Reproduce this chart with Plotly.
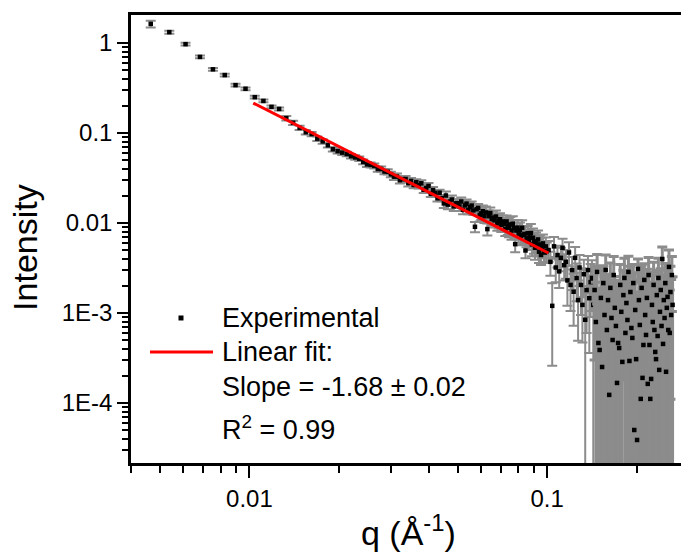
import plotly.graph_objects as go

# ---------------- data ----------------
q_low = [0.00466, 0.00538, 0.00610, 0.00682, 0.00754, 0.00826, 0.00898, 0.00970, 0.01042, 0.01114,
         0.01186, 0.01258, 0.01330, 0.01402, 0.01474, 0.01546, 0.01618, 0.01690, 0.01762, 0.01834,
         0.01906, 0.01978, 0.02050, 0.02122, 0.02194, 0.02266, 0.02338, 0.02410, 0.02482, 0.02554,
         0.02626, 0.02698, 0.02770, 0.02842, 0.02914, 0.02986]
I_low = [1.63, 1.32, 0.97, 0.70, 0.51, 0.44, 0.34, 0.31, 0.25, 0.227,
         0.195, 0.185, 0.146, 0.130, 0.114, 0.102, 0.0972, 0.0865, 0.0806, 0.0730,
         0.0660, 0.0628, 0.0605, 0.0584, 0.0552, 0.0535, 0.0518, 0.0477, 0.0448, 0.0442,
         0.0430, 0.0398, 0.0398, 0.0373, 0.0370, 0.0347]
err_low = [0.14, 0.05, 0.035, 0.025, 0.018, 0.016, 0.012, 0.011, 0.009, 0.008,
           0.007, 0.007, 0.008, 0.007, 0.006, 0.006, 0.0055, 0.005, 0.0045, 0.0042,
           0.0038, 0.0036, 0.0035, 0.0034, 0.0033, 0.0032, 0.0031, 0.0029, 0.0028, 0.0028,
           0.0027, 0.0026, 0.0026, 0.0025, 0.0025, 0.0024]

q_mid = [0.03058, 0.03130, 0.03202, 0.03274, 0.03346, 0.03418, 0.03490, 0.03562, 0.03634, 0.03706,
         0.03778, 0.03850, 0.03922, 0.03994, 0.04066, 0.04138, 0.04210, 0.04282, 0.04354, 0.04426,
         0.04498, 0.04570, 0.04642, 0.04714, 0.04786, 0.04858, 0.04930, 0.05002, 0.05074, 0.05146,
         0.05218, 0.05290, 0.05362, 0.05434, 0.05506, 0.05578, 0.05650, 0.05722, 0.05794, 0.05866,
         0.05938, 0.06010, 0.06082, 0.06154, 0.06226, 0.06298, 0.06370, 0.06442, 0.06514, 0.06586,
         0.06658, 0.06730, 0.06802, 0.06874, 0.06946, 0.07018, 0.07090, 0.07162, 0.07234, 0.07306,
         0.07378, 0.07450, 0.07522, 0.07594, 0.07666, 0.07738, 0.07810, 0.07882, 0.07954, 0.08026,
         0.08098, 0.08170, 0.08242, 0.08314, 0.08386, 0.08458, 0.08530, 0.08602, 0.08674, 0.08746,
         0.08818, 0.08890, 0.08962, 0.09034, 0.09106, 0.09178, 0.09250, 0.09322, 0.09394, 0.09466,
         0.09538, 0.09610, 0.09682, 0.09754, 0.09826, 0.09898, 0.09970]
I_mid = [0.0327, 0.0328, 0.0299, 0.0307, 0.0308, 0.0277, 0.0293, 0.0264, 0.0284, 0.0262,
         0.0276, 0.0234, 0.0245, 0.0258, 0.0211, 0.0232, 0.0216, 0.0188, 0.0217, 0.0189,
         0.0165, 0.0202, 0.0160, 0.0173, 0.0182, 0.0153, 0.0165, 0.0166, 0.0153, 0.0173,
         0.0140, 0.0157, 0.0164, 0.0140, 0.0150, 0.0156, 0.0138, 0.00907, 0.0142, 0.0147,
         0.0123, 0.0128, 0.0135, 0.0119, 0.0131, 0.00855, 0.0119, 0.0129, 0.0110, 0.0115,
         0.0107, 0.0118, 0.0099, 0.0105, 0.0110, 0.00954, 0.0104, 0.00972, 0.00856, 0.0104,
         0.00936, 0.00886, 0.00963, 0.00823, 0.00981, 0.00877, 0.00582, 0.00824, 0.00888, 0.00762,
         0.00831, 0.00716, 0.00885, 0.00736, 0.00755, 0.00495, 0.00676, 0.00768, 0.00630, 0.00692,
         0.00772, 0.00578, 0.00686, 0.00615, 0.00531, 0.00624, 0.00566, 0.00656, 0.00480, 0.00578,
         0.00441, 0.00545, 0.00593, 0.00486, 0.00469, 0.00549, 0.00486]
err_mid = [0.0026, 0.0026, 0.0024, 0.0025, 0.0025, 0.0022, 0.0023, 0.0021, 0.0023, 0.0021,
           0.0022, 0.0019, 0.0020, 0.0021, 0.0017, 0.0019, 0.0017, 0.0015, 0.0017, 0.0015,
           0.0018, 0.0022, 0.0018, 0.0019, 0.0020, 0.0017, 0.0018, 0.0018, 0.0017, 0.0019,
           0.0015, 0.0017, 0.0018, 0.0015, 0.0017, 0.0017, 0.0015, 0.0012, 0.0016, 0.0016,
           0.0019, 0.0020, 0.0021, 0.0019, 0.0021, 0.0013, 0.0019, 0.0020, 0.0017, 0.0019,
           0.0018, 0.0020, 0.0017, 0.0018, 0.0018, 0.0016, 0.0017, 0.0016, 0.0014, 0.0017,
           0.0020, 0.0019, 0.0020, 0.0017, 0.0021, 0.0019, 0.0011, 0.0017, 0.0019, 0.0016,
           0.0018, 0.0015, 0.0019, 0.0016, 0.0016, 0.0009, 0.0014, 0.0016, 0.0013, 0.0015,
           0.0020, 0.0015, 0.0018, 0.0016, 0.0014, 0.0016, 0.0014, 0.0017, 0.0012, 0.0015,
           0.0010, 0.0014, 0.0015, 0.0012, 0.0011, 0.0014, 0.0012]

# q > 0.1, part 1 (0.101 - 0.143)
q_high1 = [0.10114, 0.10258, 0.10402, 0.10546, 0.10690, 0.10834, 0.10978, 0.11122, 0.11266, 0.11410,
           0.11554, 0.11698, 0.11842, 0.11986, 0.12130, 0.12274, 0.12418, 0.12562, 0.12706, 0.12850,
           0.12994, 0.13138, 0.13282, 0.13426, 0.13570, 0.13714, 0.13858, 0.14002, 0.14146, 0.14290]
I_high1 = [0.0050, 0.0037, 0.00120, 0.0055, 0.0032, 0.0044, 0.0029, 0.0041, 0.0053, 0.0034,
           0.0037, 0.0023, 0.0047, 0.00205, 0.0030, 0.00172, 0.0041, 0.00245, 0.00139, 0.0032,
           0.00205, 0.00123, 0.0027, 0.00084, 0.0018, 0.0030, 0.00146, 0.0022, 0.00245, 0.00123]
err_high1 = [0.0013, 0.0011, 0.00094, 0.0015, 0.0010, 0.0012, 0.0010, 0.0012, 0.0014, 0.0011,
             0.0013, 0.0011, 0.0014, 0.0010, 0.0012, 0.0010, 0.0013, 0.0011, 0.0009, 0.0012,
             0.0011, 0.00076, 0.0012, 0.00082, 0.0012, 0.0013, 0.0011, 0.0013, 0.0014, 0.0014]

# q > 0.1, part 2 (0.144 - 0.264), noisy background region
q_high2 = [0.14434, 0.14578, 0.14722, 0.14866, 0.15010, 0.15154, 0.15298, 0.15442, 0.15586, 0.15730,
           0.15874, 0.16018, 0.16162, 0.16306, 0.16450, 0.16594, 0.16738, 0.16882, 0.17026, 0.17170,
           0.17314, 0.17458, 0.17602, 0.17746, 0.17890, 0.18034, 0.18178, 0.18322, 0.18466, 0.18610,
           0.18754, 0.18898, 0.19042, 0.19186, 0.19330, 0.19474, 0.19618, 0.19762, 0.19906, 0.20050,
           0.20194, 0.20338, 0.20482, 0.20626, 0.20770, 0.20914, 0.21058, 0.21202, 0.21346, 0.21490,
           0.21634, 0.21778, 0.21922, 0.22066, 0.22210, 0.22354, 0.22498, 0.22642, 0.22786, 0.22930,
           0.23074, 0.23218, 0.23362, 0.23506, 0.23650, 0.23794, 0.23938, 0.24082, 0.24226, 0.24370,
           0.24514, 0.24658, 0.24802, 0.24946, 0.25090, 0.25234, 0.25378, 0.25522, 0.25666, 0.25810,
           0.25954, 0.26098, 0.26242, 0.26386]
I_high2 = [0.00180, 0.000794, 0.00286, 0.000464, 0.000388, 0.00147, 0.000251, 0.00215, 0.000950, 0.00301,
           0.000647, 0.00139, 0.000123, 0.00190, 0.000880, 0.000501, 0.00264, 0.00114, 0.000717, 0.000167,
           0.000464, 0.000408, 0.00205, 0.00103, 0.000286, 0.00158, 0.00245, 0.000600, 0.00129, 0.000836,
           0.00286, 0.000293, 0.00171, 0.000681, 0.000528, 0.00215, 0.0000501, 0.00108, 0.000307, 0.0000388,
           0.00309, 0.00139, 0.000736, 0.000111, 0.00190, 0.000190, 0.000441, 0.00233, 0.000950, 0.000570,
           0.00147, 0.000163, 0.00264, 0.000441, 0.000111, 0.000185, 0.00123, 0.000794, 0.00205, 0.000647,
           0.000369, 0.000307, 0.00158, 0.000555, 0.00245, 0.000233, 0.00103, 0.00180, 0.000717, 0.00398,
           0.000453, 0.00139, 0.000880, 0.00215, 0.000222, 0.00114, 0.00151, 0.000647, 0.00325, 0.000600,
           0.00171, 0.000950, 0.00264, 0.00123]
err_high2 = [0.0015, 0.0014, 0.0016, 0.0013, 0.0015, 0.0017, 0.0014, 0.0012, 0.0016, 0.0014,
             0.0016, 0.0013, 0.0015, 0.0017, 0.0014, 0.0012, 0.0016, 0.0014, 0.0016, 0.0013,
             0.0015, 0.0017, 0.0014, 0.0012, 0.0016, 0.0014, 0.0016, 0.0013, 0.0015, 0.0017,
             0.0014, 0.0012, 0.0016, 0.0014, 0.0016, 0.0013, 0.0015, 0.0017, 0.0014, 0.0012,
             0.0009, 0.0014, 0.0016, 0.0013, 0.0015, 0.0017, 0.0014, 0.0012, 0.0016, 0.0014,
             0.0016, 0.0013, 0.0015, 0.0017, 0.0014, 0.0012, 0.0016, 0.0014, 0.0016, 0.0013,
             0.0015, 0.0017, 0.0014, 0.0012, 0.0016, 0.0014, 0.0016, 0.0013, 0.0015, 0.00143,
             0.0014, 0.0012, 0.0016, 0.0014, 0.0016, 0.0013, 0.0015, 0.0017, 0.00176, 0.0012,
             0.0016, 0.0014, 0.0016, 0.0013]

# linear fit (log-log), end points of the fitted line
fit_q = [0.0103, 0.101]
fit_I = [0.215, 0.00464]

x_tickvals = [0.01, 0.1]
x_ticktext = ["0.01", "0.1"]
y_tickvals = [1e-4, 1e-3, 1e-2, 1e-1, 1]
y_ticktext = ["1E-4", "1E-3", "0.01", "0.1", "1"]

legend_labels = ["Experimental", "Linear fit:", "Slope = -1.68 ± 0.02", "R<sup>2</sup> = 0.99"]

FONT = "Liberation Sans, Arial, sans-serif"
ERR_COLOR = "#8c8c8c"

fig = go.Figure()
fig.add_trace(go.Scatter(
    x=q_low + q_mid + q_high1, y=I_low + I_mid + I_high1, mode="markers",
    marker=dict(symbol="square", size=4.5, color="black", line=dict(width=0)),
    error_y=dict(type="data", array=err_low + err_mid + err_high1, visible=True,
                 color=ERR_COLOR, thickness=2, width=5),
    showlegend=False,
))
fig.add_trace(go.Scatter(
    x=q_high2, y=I_high2, mode="markers",
    marker=dict(symbol="square", size=4.5, color="black", line=dict(width=0)),
    error_y=dict(type="data", array=err_high2, visible=True,
                 color=ERR_COLOR, thickness=3, width=5),
    showlegend=False,
))
fig.add_trace(go.Scatter(
    x=fit_q, y=fit_I, mode="lines",
    line=dict(color="#ff0000", width=3), showlegend=False,
))

minor_x = [d * 10.0 ** e for e in (-3, -2, -1) for d in range(2, 10)]
minor_x = [v for v in minor_x if 0.004 <= v <= 0.28]
minor_y = [d * 10.0 ** e for e in (-5, -4, -3, -2, -1) for d in range(2, 10)]
minor_y = [v for v in minor_y if 2.2e-5 <= v <= 1.0]

axis_common = dict(
    type="log", showline=True, linecolor="black", linewidth=2.5,
    ticks="outside", tickcolor="black", tickwidth=2,
    showgrid=False, zeroline=False,
    tickfont=dict(family=FONT, size=24, color="black"),
)

fig.update_layout(
    width=681, height=553,
    margin=dict(l=131, r=0, t=15, b=90),
    paper_bgcolor="white", plot_bgcolor="white",
    font=dict(family=FONT, color="black"),
    xaxis=dict(**axis_common, range=[-2.3979, -0.5503], mirror=True, ticklen=12,
               tickvals=x_tickvals, ticktext=x_ticktext,
               minor=dict(ticks="outside", ticklen=7, tickwidth=2, tickcolor="black", tickvals=minor_x)),
    yaxis=dict(**axis_common, range=[-4.667, 0.311], mirror=False, ticklen=11,
               tickvals=y_tickvals, ticktext=y_ticktext,
               minor=dict(ticks="outside", ticklen=6, tickwidth=2, tickcolor="black", tickvals=minor_y)),
)

# axis titles
fig.add_annotation(text="q (Å<sup>-1</sup>)", xref="paper", yref="paper", x=0.505, y=-0.150,
                   xanchor="center", yanchor="middle", showarrow=False,
                   font=dict(family=FONT, size=34, color="black"))
fig.add_annotation(text="Intensity", xref="paper", yref="paper", x=-0.193, y=0.482,
                   xanchor="center", yanchor="middle", textangle=-90, showarrow=False,
                   font=dict(family=FONT, size=34, color="black"))

# legend (drawn manually)
fig.add_shape(type="rect", xref="paper", yref="paper", xsizemode="pixel", ysizemode="pixel",
              xanchor=0.0909, yanchor=0.3237, x0=-2.5, x1=2.5, y0=-2.5, y1=2.5,
              fillcolor="black", line=dict(width=0))
fig.add_shape(type="line", xref="paper", yref="paper", x0=0.0345, x1=0.1491, y0=0.2478, y1=0.2478,
              line=dict(color="#ff0000", width=3))
legend_y = [0.3237, 0.2478, 0.1696, 0.0781]
for lab, ly in zip(legend_labels, legend_y):
    fig.add_annotation(text=lab, xref="paper", yref="paper", x=0.1618, y=ly,
                       xanchor="left", yanchor="middle", showarrow=False,
                       font=dict(family=FONT, size=27, color="black"))

fig.write_html("out.html")
